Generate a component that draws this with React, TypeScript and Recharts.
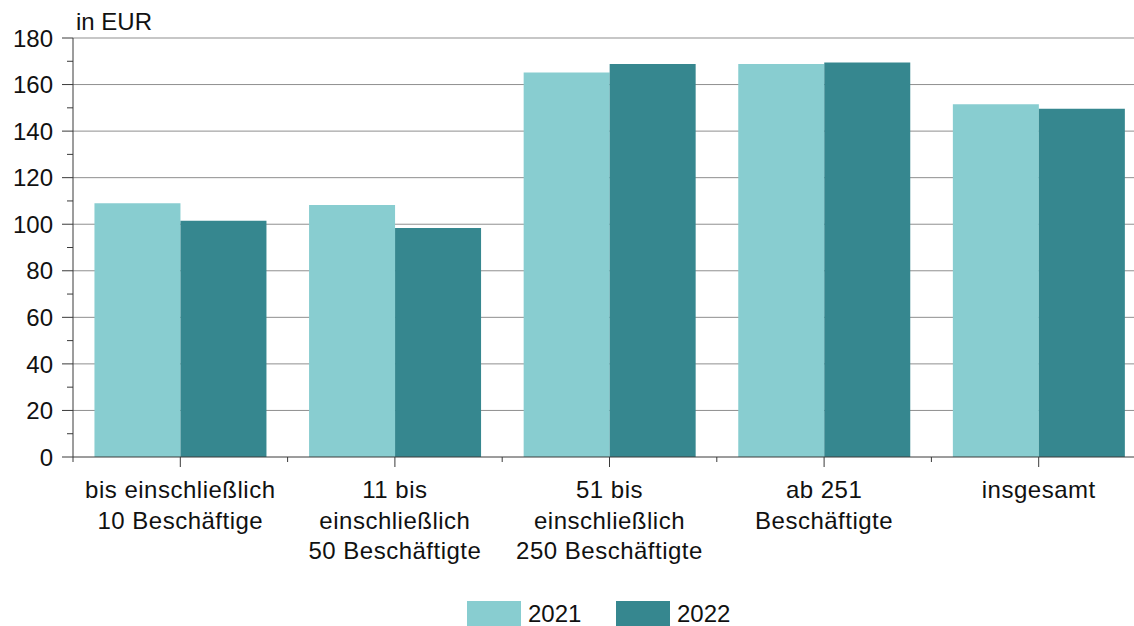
import { BarChart, Bar, XAxis, YAxis, CartesianGrid } from 'recharts'

const categories = [
  'bis einschließlich\n10 Beschäftige',
  '11 bis\neinschließlich\n50 Beschäftigte',
  '51 bis\neinschließlich\n250 Beschäftigte',
  'ab 251\nBeschäftigte',
  'insgesamt',
]
const values2021 = [109.0, 108.3, 165.2, 168.8, 151.5]
const values2022 = [101.5, 98.4, 168.8, 169.5, 149.6]
const yTicks = [0, 10, 20, 30, 40, 50, 60, 70, 80, 90, 100, 110, 120, 130, 140, 150, 160, 170, 180]
const gridValues = [20, 40, 60, 80, 100, 120, 140, 160, 180]
const seriesNames = ['2021', '2022']

const LIGHT = '#88CDD0'
const DARK = '#36878F'
const AXIS = '#3a3a3a'
const FONT = '"Liberation Sans", Arial, sans-serif'

const data = categories.map((c, i) => ({ cat: c, y2021: values2021[i], y2022: values2022[i] }))

const W = 1160
const H = 626
const M = { top: 38, right: 14, left: 0, bottom: 0 }
const Y_W = 73
const X_H = 169
const BAND = (W - M.left - M.right - Y_W) / categories.length

// eslint-disable-next-line @typescript-eslint/no-explicit-any
const YTick = ({ x, y, payload }: any) => {
  const major = payload.value % 20 === 0
  return (
    <g>
      <line x1={x - (major ? 11 : 6)} x2={x} y1={y} y2={y} stroke={AXIS} strokeWidth={1} />
      {major && (
        <text x={x - 20} y={y} dy="0.36em" textAnchor="end" fontSize={24} fill="#111" fontFamily={FONT}>
          {payload.value}
        </text>
      )}
    </g>
  )
}

// eslint-disable-next-line @typescript-eslint/no-explicit-any
const XTick = ({ x, y, payload, index }: any) => {
  const lines = String(payload.value).split('\n')
  return (
    <g>
      <line x1={x} x2={x} y1={y} y2={y + 10} stroke={AXIS} strokeWidth={1} />
      <line x1={x + BAND / 2} x2={x + BAND / 2} y1={y} y2={y + 5} stroke={AXIS} strokeWidth={1} />
      {index === 0 && <line x1={x - BAND / 2} x2={x - BAND / 2} y1={y} y2={y + 5} stroke={AXIS} strokeWidth={1} />}
      <text x={x} y={y + 41} textAnchor="middle" fontSize={24} letterSpacing={0.5} fill="#111" fontFamily={FONT}>
        {lines.map((l, i) => (
          <tspan key={i} x={x} dy={i === 0 ? 0 : 30.5}>{l}</tspan>
        ))}
      </text>
    </g>
  )
}

export default function App() {
  return (
    <div style={{ position: 'absolute', left: 0, top: 0, width: 1134, height: 626, overflow: 'hidden', background: '#fff', fontFamily: FONT }}>
      <div style={{ position: 'absolute', left: 76, top: 8, fontSize: 24, lineHeight: '28px', color: '#111' }}>in EUR</div>
      <BarChart width={W} height={H} data={data} margin={M} barCategoryGap="10%" barGap={0}>
        <CartesianGrid vertical={false} horizontalValues={gridValues} stroke="#8f8f8f" strokeWidth={1} />
        <XAxis
          dataKey="cat"
          interval={0}
          height={X_H}
          tickSize={0}
          tickMargin={0}
          tickLine={false}
          axisLine={{ stroke: AXIS }}
          tick={<XTick />}
        />
        <YAxis
          domain={[0, 180]}
          ticks={yTicks}
          interval={0}
          width={Y_W}
          tickSize={0}
          tickMargin={0}
          tickLine={false}
          axisLine={{ stroke: AXIS }}
          tick={<YTick />}
        />
        <Bar dataKey="y2021" name={seriesNames[0]} fill={LIGHT} isAnimationActive={false} />
        <Bar dataKey="y2022" name={seriesNames[1]} fill={DARK} isAnimationActive={false} />
      </BarChart>
      {seriesNames.map((n, i) => (
        <div key={n} style={{ position: 'absolute', left: i === 0 ? 467 : 616, top: 601, display: 'flex', alignItems: 'center' }}>
          <div style={{ width: 54, height: 25, background: i === 0 ? LIGHT : DARK }} />
          <span style={{ marginLeft: 7, fontSize: 24, color: '#111', lineHeight: '25px' }}>{n}</span>
        </div>
      ))}
    </div>
  )
}
